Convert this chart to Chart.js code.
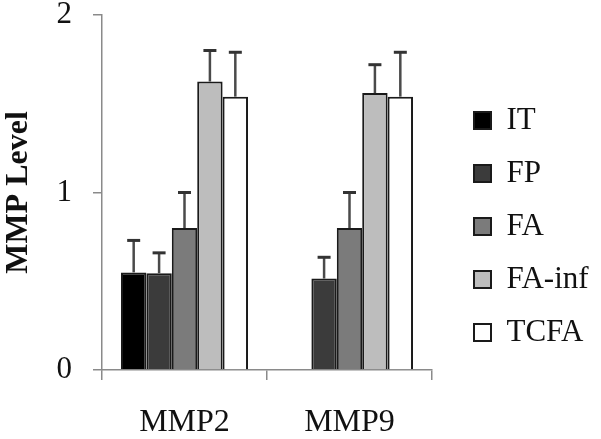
<!DOCTYPE html>
<html>
<head>
<meta charset="utf-8">
<script src="https://cdn.jsdelivr.net/npm/chart.js@4"></script>
<style>
html,body{margin:0;padding:0;background:#fff;}
canvas{display:block;}
</style>
</head>
<body>
<canvas id="c" width="601" height="439"></canvas>
<script>
const categories = ['MMP2', 'MMP9'];
const seriesLabels = ['IT', 'FP', 'FA', 'FA-inf', 'TCFA'];
const itValues = [0.55, 0];
const itErr = [0.18, null];
const fpValues = [0.545, 0.515];
const fpErr = [0.115, 0.12];
const faValues = [0.80, 0.80];
const faErr = [0.20, 0.20];
const faInfValues = [1.625, 1.56];
const faInfErr = [0.175, 0.16];
const tcfaValues = [1.54, 1.54];
const tcfaErr = [0.25, 0.25];
const yTicks = [0, 1, 2];

const seriesValues = [itValues, fpValues, faValues, faInfValues, tcfaValues];
const seriesErrors = [itErr, fpErr, faErr, faInfErr, tcfaErr];
const fills = ['#000000', '#3b3b3b', '#7b7b7b', '#bdbdbd', '#ffffff'];

const FONT = '"Liberation Serif", "Times New Roman", serif';
const AXIS = '#8a8a8a';

const legendFix = {
  id: 'legendFix',
  beforeInit(chart) {
    const orig = chart.legend.fit;
    chart.legend.fit = function () {
      orig.call(this);
      this.width = 169;
    };
  },
  beforeDraw(chart) {
    const L = chart.legend;
    L.left = 452; L.right = 601;
    L.top = 7; L.bottom = 446;
  }
};

const errorBars = {
  id: 'errorBars',
  afterDatasetsDraw(chart) {
    const ctx = chart.ctx;
    const y = chart.scales.y;
    chart.data.datasets.forEach((ds, d) => {
      const meta = chart.getDatasetMeta(d);
      meta.data.forEach((bar, i) => {
        const e = seriesErrors[d][i];
        if (e == null) return;
        const v = ds.data[i];
        const y0 = y.getPixelForValue(v);
        const y1 = y.getPixelForValue(v + e);
        ctx.save();
        ctx.strokeStyle = '#4a4a4a';
        ctx.lineWidth = 2.5;
        ctx.beginPath();
        ctx.moveTo(bar.x, y0);
        ctx.lineTo(bar.x, y1);
        ctx.stroke();
        ctx.strokeStyle = '#333';
        ctx.lineWidth = 3;
        ctx.beginPath();
        ctx.moveTo(bar.x - 6.5, y1);
        ctx.lineTo(bar.x + 6.5, y1);
        ctx.stroke();
        ctx.restore();
      });
    });
  }
};

new Chart(document.getElementById('c'), {
  type: 'bar',
  data: {
    labels: categories,
    datasets: seriesLabels.map((lab, k) => ({
      label: lab,
      data: seriesValues[k],
      backgroundColor: fills[k],
      borderColor: '#1a1a1a',
      borderWidth: 2,
      categoryPercentage: 0.77,
      barPercentage: 1.0
    }))
  },
  options: {
    responsive: false,
    animation: false,
    layout: { padding: 0 },
    plugins: {
      tooltip: { enabled: false },
      legend: {
        position: 'right',
        align: 'center',
        labels: {
          boxWidth: 17,
          boxHeight: 17,
          padding: 22,
          color: '#111',
          font: { family: FONT, size: 31 }
        }
      }
    },
    scales: {
      x: {
        grid: { display: true, drawOnChartArea: false, drawTicks: true, tickLength: 10, color: AXIS, lineWidth: 1.5, offset: true },
        border: { display: true, color: AXIS, width: 1.5 },
        ticks: { color: '#111', padding: 23, font: { family: FONT, size: 32 } },
        afterFit(s) { s.height = 69; }
      },
      y: {
        min: 0,
        max: 2,
        afterBuildTicks(s) { s.ticks = yTicks.map(v => ({ value: v })); },
        grid: { display: true, drawOnChartArea: false, drawTicks: true, tickLength: 9, color: AXIS, lineWidth: 1.5 },
        border: { display: true, color: AXIS, width: 1.5 },
        ticks: { color: '#111', padding: 21, font: { family: FONT, size: 31 } },
        title: {
          display: true,
          text: 'MMP Level',
          color: '#111',
          padding: { top: 0, bottom: 0 },
          font: { family: FONT, size: 32, weight: 'bold' }
        },
        afterFit(s) { s.width = 102; s.paddingTop = 15; s.paddingBottom = 0; }
      }
    }
  },
  plugins: [legendFix, errorBars]
});
</script>
</body>
</html>
